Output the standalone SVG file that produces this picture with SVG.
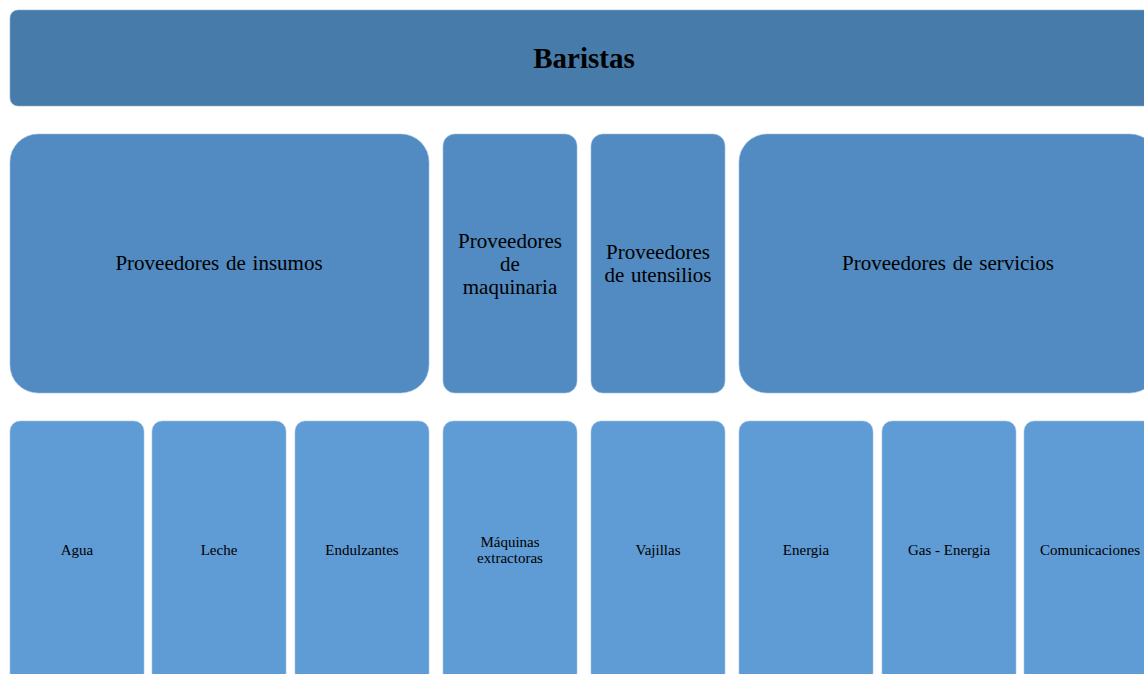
<svg xmlns="http://www.w3.org/2000/svg" width="1144" height="674" viewBox="0 0 1144 674">
  <style>
    .top { fill: #477BAA; stroke: #8FB0D0; stroke-width: 0.6; }
    .mid { fill: #528BC1; stroke: #9DBDE0; stroke-width: 0.6; }
    .leaf { fill: #5F9BD4; stroke: #A6C6E8; stroke-width: 0.6; }
    text { font-family: "Liberation Serif", "Times New Roman", serif; fill: #000; text-anchor: middle; }
    .t1 { font-size: 29px; font-weight: bold; }
    .t2 { font-size: 21px; word-spacing: 1.5px; }
    .t3 { font-size: 15px; }
  </style>

  <g id="baristas">
    <rect class="top" x="10" y="10" width="1148" height="96" rx="8"/>
    <text class="t1" x="584" y="68">Baristas</text>
  </g>

  <g id="insumos">
    <rect class="mid" x="10" y="134" width="419" height="259" rx="28"/>
    <text class="t2" x="219" y="270">Proveedores de insumos</text>
  </g>
  <g id="maquinaria">
    <rect class="mid" x="443" y="134" width="134" height="259" rx="12"/>
    <text class="t2" x="510" y="248">Proveedores</text>
    <text class="t2" x="510" y="271">de</text>
    <text class="t2" x="510" y="294">maquinaria</text>
  </g>
  <g id="utensilios">
    <rect class="mid" x="591" y="134" width="134" height="259" rx="12"/>
    <text class="t2" x="658" y="259">Proveedores</text>
    <text class="t2" x="658" y="282">de utensilios</text>
  </g>
  <g id="servicios">
    <rect class="mid" x="739" y="134" width="419" height="259" rx="28"/>
    <text class="t2" x="948" y="270">Proveedores de servicios</text>
  </g>

  <g id="agua">
    <rect class="leaf" x="10" y="421" width="134" height="270" rx="10"/>
    <text class="t3" x="77" y="555">Agua</text>
  </g>
  <g id="leche">
    <rect class="leaf" x="152" y="421" width="134" height="270" rx="10"/>
    <text class="t3" x="219" y="555">Leche</text>
  </g>
  <g id="endulzantes">
    <rect class="leaf" x="295" y="421" width="134" height="270" rx="10"/>
    <text class="t3" x="362" y="555">Endulzantes</text>
  </g>
  <g id="maquinas">
    <rect class="leaf" x="443" y="421" width="134" height="270" rx="10"/>
    <text class="t3" x="510" y="547">Máquinas</text>
    <text class="t3" x="510" y="563">extractoras</text>
  </g>
  <g id="vajillas">
    <rect class="leaf" x="591" y="421" width="134" height="270" rx="10"/>
    <text class="t3" x="658" y="555">Vajillas</text>
  </g>
  <g id="energia">
    <rect class="leaf" x="739" y="421" width="134" height="270" rx="10"/>
    <text class="t3" x="806" y="555">Energia</text>
  </g>
  <g id="gas">
    <rect class="leaf" x="882" y="421" width="134" height="270" rx="10"/>
    <text class="t3" x="949" y="555">Gas - Energia</text>
  </g>
  <g id="comunicaciones">
    <rect class="leaf" x="1024" y="421" width="134" height="270" rx="10"/>
    <text class="t3" x="1090" y="555">Comunicaciones</text>
  </g>

  <g id="connectors"/>
</svg>
